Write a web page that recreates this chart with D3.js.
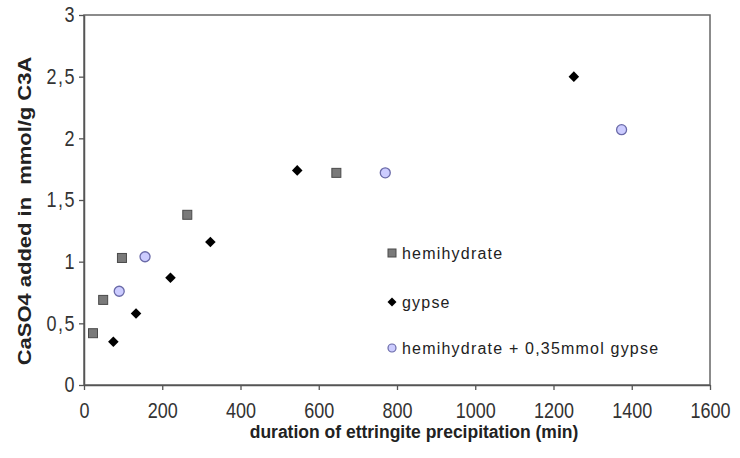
<!DOCTYPE html>
<html><head><meta charset="utf-8">
<script src="https://cdn.jsdelivr.net/npm/d3@7"></script>
<style>body{margin:0;background:#fff}svg{display:block}</style>
</head><body><svg id="c" width="740" height="458"></svg>
<script>
const xTicks = [0,200,400,600,800,1000,1200,1400,1600];
const xTickLabels = ["0","200","400","600","800","1000","1200","1400","1600"];
const yTicks = [0,0.5,1,1.5,2,2.5,3];
const yTickLabels = ["0","0,5","1","1,5","2","2,5","3"];
const hemiX = [23,49,97,264,645];
const hemiY = [0.42,0.69,1.03,1.38,1.72];
const gypseX = [75,133,221,323,545,1252];
const gypseY = [0.35,0.58,0.87,1.16,1.74,2.50];
const mixX = [90,156,770,1374];
const mixY = [0.76,1.04,1.72,2.07];
const legendLabels = ["hemihydrate","gypse","hemihydrate + 0,35mmol gypse"];
const xLabel = "duration of ettringite precipitation (min)";
const yLabel = "CaSO4 added in  mmol/g C3A";

const svg = d3.select("#c");
const L=84,R=710,T=15,B=385;
const x = d3.scaleLinear().domain([0,1600]).range([L,R]);
const y = d3.scaleLinear().domain([0,3]).range([B,T]);
const font = "Liberation Sans, Arial, sans-serif";

// frame
svg.append("rect").attr("x",L).attr("y",T).attr("width",R-L).attr("height",B-T)
  .attr("fill","none").attr("stroke","#666").attr("stroke-width",1.5);

const gx = svg.append("g").attr("transform",`translate(0,${B})`)
  .call(d3.axisBottom(x).tickValues(xTicks).tickSize(5).tickSizeOuter(0)
    .tickFormat((d,i)=>xTickLabels[i]));
const gy = svg.append("g").attr("transform",`translate(${L},0)`)
  .call(d3.axisLeft(y).tickValues(yTicks).tickSize(5).tickPadding(3).tickSizeOuter(0)
    .tickFormat((d,i)=>yTickLabels[i]));
[gx,gy].forEach(g=>{
  g.select(".domain").attr("stroke","#555").attr("stroke-width",1.5);
  g.selectAll(".tick line").attr("stroke","#555").attr("stroke-width",1.3);
  g.selectAll(".tick text").attr("fill","#333").style("font-family",font).style("font-size","18px");
});
gx.selectAll(".tick text").attr("y",26.4).attr("dy",0).attr("transform","scale(1,1.25)");
gy.selectAll(".tick text").attr("transform","scale(1,1.25)").attr("dy","0.3em").style("letter-spacing","1.5px");

svg.append("text").attr("x",414).attr("y",438).attr("text-anchor","middle")
  .style("font-family",font).style("font-size","17.5px").style("font-weight","bold").attr("fill","#222")
  .text(xLabel);
svg.append("text").attr("transform",`translate(31,211) rotate(-90) scale(1.22,1)`).attr("text-anchor","middle")
  .style("font-family",font).style("font-size","18px").style("font-weight","bold").attr("fill","#222")
  .style("white-space","pre").text(yLabel);

const sq = 9;
function squares(g, xs, ys){
  g.selectAll(null).data(xs).enter().append("rect")
    .attr("x",(d)=>x(d)-sq/2).attr("y",(d,i)=>y(ys[i])-sq/2).attr("width",sq).attr("height",sq)
    .attr("fill","#7a7a7a").attr("stroke","#4a4a4a").attr("stroke-width",1);
}
function diamonds(g, xs, ys){
  g.selectAll(null).data(xs).enter().append("path").attr("d",d3.symbol().type(d3.symbolSquare).size(56))
    .attr("transform",(d,i)=>`translate(${x(d)},${y(ys[i])}) rotate(45)`).attr("fill","#000");
}
function circles(g, xs, ys){
  g.selectAll(null).data(xs).enter().append("circle")
    .attr("cx",d=>x(d)).attr("cy",(d,i)=>y(ys[i])).attr("r",5)
    .attr("fill","#ccccff").attr("stroke","#6a6aa8").attr("stroke-width",1.3);
}
const pts = svg.append("g");
squares(pts, hemiX, hemiY);
diamonds(pts, gypseX, gypseY);
circles(pts, mixX, mixY);

// legend
const lg = svg.append("g");
const legY = [253,302,348];
const lx = 392;
lg.append("rect").attr("x",lx-4).attr("y",legY[0]-4).attr("width",8).attr("height",8)
  .attr("fill","#7a7a7a").attr("stroke","#4a4a4a");
lg.append("path").attr("d",d3.symbol().type(d3.symbolSquare).size(40))
  .attr("transform",`translate(${lx},${legY[1]}) rotate(45)`).attr("fill","#000");
lg.append("circle").attr("cx",lx).attr("cy",legY[2]).attr("r",4)
  .attr("fill","#ccccff").attr("stroke","#6a6aa8").attr("stroke-width",1.2);
lg.selectAll(null).data(legendLabels).enter().append("text")
  .attr("x",lx+10).attr("y",(d,i)=>legY[i]+5.5)
  .style("font-family",font).style("font-size","16px").style("letter-spacing","1.2px")
  .attr("fill","#222").text(d=>d);
</script></body></html>
